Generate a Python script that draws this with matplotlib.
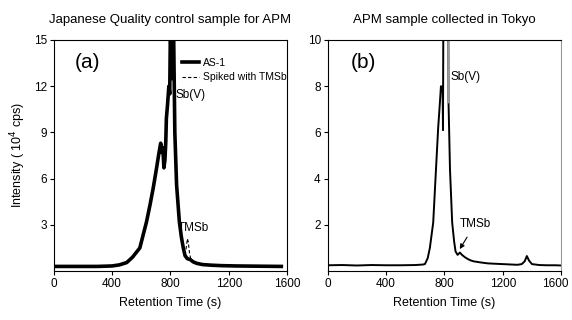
import matplotlib
matplotlib.use("Agg")
import matplotlib.pyplot as plt
from matplotlib.transforms import ScaledTranslation

plt.rcParams['font.family'] = ['Liberation Sans', 'DejaVu Sans']

# panel (a): AS-1 quality control sample
a_time = [0, 100, 200, 300, 400, 450, 500, 540, 590, 636, 660, 682, 705, 720, 733,
          742, 748, 755, 762, 768, 772, 780, 789, 795, 800, 805, 809, 813, 817, 821,
          830, 842, 861, 875, 888, 900, 916, 935, 955, 980, 1020, 1080, 1150,
          1250, 1350, 1450, 1560]
a_as1 = [0.3, 0.3, 0.3, 0.3, 0.33, 0.4, 0.55, 0.9, 1.5, 3.2, 4.3, 5.4, 6.7, 7.6, 8.3,
         7.7, 8.0, 6.7, 7.2, 8.4, 9.9, 10.8, 12, 11.5, 16, 13, 16, 12.5, 16, 16,
         9.0, 5.6, 3.2, 2.2, 1.5, 1.0, 0.8, 0.75, 0.6, 0.5, 0.42, 0.38, 0.35,
         0.33, 0.32, 0.31, 0.3]
a_spk_time = [875, 888, 900, 908, 916, 922, 930, 938, 948, 960, 980]
a_spk = [2.2, 1.5, 1.1, 1.5, 2.1, 1.9, 1.2, 0.85, 0.68, 0.58, 0.5]

# panel (b): APM sample collected in Tokyo
b_time = [0, 100, 200, 300, 400, 500, 600, 650, 666, 685, 700, 723, 742, 757, 769,
          776, 783, 787, 790, 793, 826, 828, 838, 853, 866, 876, 890, 906, 920,
          940, 960, 980, 1000, 1050, 1100, 1200, 1300, 1330, 1350, 1365, 1380, 1400,
          1450, 1500, 1560, 1600]
b_int = [0.25, 0.26, 0.24, 0.26, 0.25, 0.25, 0.26, 0.28, 0.3, 0.55, 1.0, 2.1, 4.4, 6.2, 7.3,
         8.0, 7.8, 8.0, 6.1, 12, 12, 7.3, 4.4, 2.1, 1.3, 0.85, 0.7, 0.8, 0.7,
         0.6, 0.52, 0.46, 0.42, 0.37, 0.33, 0.3, 0.27, 0.3, 0.42, 0.65, 0.45, 0.3,
         0.26, 0.25, 0.25, 0.24]

fig = plt.figure(figsize=(5.72, 3.2), dpi=100)
ax1 = fig.add_axes([0.094, 0.153, 0.408, 0.722])
ax2 = fig.add_axes([0.573, 0.153, 0.408, 0.722])

ax1.plot(a_time, a_as1, color='black', lw=2.6, label='AS-1')
ax1.plot(a_spk_time, a_spk, color='black', lw=0.8, ls=(0, (3, 2)), label='Spiked with TMSb')
ax1.set_xlim(0, 1600)
ax1.set_ylim(0, 15)
ax1.set_yticks([3, 6, 9, 12, 15])
ax1.set_xticks([0, 400, 800, 1200, 1600])
ax1.set_ylabel('Intensity ( 10$^4$ cps)', fontsize=9)
ax1.set_xlabel('Retention Time (s)', fontsize=9, labelpad=5)
ax1.set_title('Japanese Quality control sample for APM', fontsize=9.5, pad=12)
ax1.text(0.09, 0.88, '(a)', transform=ax1.transAxes, fontsize=15)
ax1.text(832, 11.4, 'Sb(V)', fontsize=8.5, va='center')
ax1.text(850, 2.8, 'TMSb', fontsize=8.5, va='center')
ax1.legend(loc='upper right', bbox_to_anchor=(1.03, 0.955), frameon=False, fontsize=7.5,
           handlelength=1.6, handletextpad=0.4, labelspacing=0.45, borderpad=0.2)

ax2.plot(b_time, b_int, color='black', lw=1.4)
# the falling edge of the clipped Sb(V) peak prints grey in the original
ax2.plot(b_time[19:22], b_int[19:22], color='#9a9a9a', lw=1.4)
ax2.set_xlim(0, 1600)
ax2.set_ylim(0, 10)
ax2.set_yticks([2, 4, 6, 8, 10])
ax2.set_xticks([0, 400, 800, 1200, 1600])
ax2.set_xlabel('Retention Time (s)', fontsize=9, labelpad=5)
ax2.set_title('APM sample collected in Tokyo', fontsize=9.5, pad=12)
ax2.text(0.1, 0.88, '(b)', transform=ax2.transAxes, fontsize=15)
ax2.text(840, 8.4, 'Sb(V)', fontsize=8.5, va='center')
ax2.annotate('TMSb', xy=(905, 0.95), xytext=(905, 2.05), fontsize=8.5, va='center',
             arrowprops=dict(arrowstyle='-|>', color='black', lw=0.8, mutation_scale=7,
                             shrinkA=4, shrinkB=0))
ax2.spines['right'].set_color('#999999')

for ax in (ax1, ax2):
    ax.tick_params(direction='out', length=3, width=0.8, labelsize=8.5, pad=2)
    for s in ax.spines.values():
        s.set_linewidth(0.8)

fig.canvas.draw()
last = ax2.get_xticklabels()[-1]
last.set_transform(last.get_transform() + ScaledTranslation(-6 / 100, 0, fig.dpi_scale_trans))

fig.savefig('out.png', dpi=100)
